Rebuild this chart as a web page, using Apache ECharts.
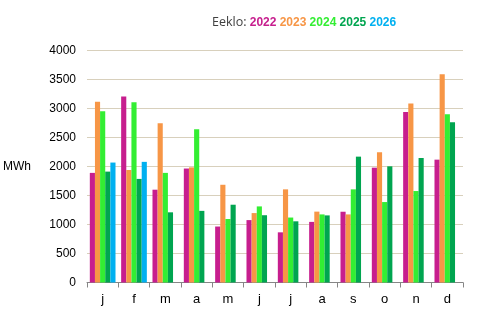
<!DOCTYPE html>
<html><head><meta charset="utf-8">
<script src="https://cdn.jsdelivr.net/npm/echarts@6/dist/echarts.min.js"></script>
<style>html,body{margin:0;padding:0;background:#fff}#c{width:480px;height:323px}</style>
</head><body><div id="c"></div>
<script>
const months = ['j','f','m','a','m','j','j','a','s','o','n','d'];
const years = ['2022','2023','2024','2025','2026'];
const colors = ['#C71E8E','#F79646','#33EE33','#00A550','#00B0F0'];
const v2022 = [1890,3205,1600,1965,965,1076,865,1045,1220,1980,2940,2118];
const v2023 = [3115,1940,2745,1985,1685,1197,1606,1222,1174,2244,3085,3591];
const v2024 = [2952,3108,1890,2642,1095,1312,1120,1174,1606,1387,1577,2900];
const v2025 = [1912,1786,1210,1235,1341,1160,1055,1157,2170,2003,2147,2762];
const v2026 = [2068,2080,null,null,null,null,null,null,null,null,null,null];
const yTicks = [0,500,1000,1500,2000,2500,3000,3500,4000];
const values = [v2022,v2023,v2024,v2025,v2026];

const chart = echarts.init(document.getElementById('c'));
const rich = {k:{color:'#404040',fontSize:12.5,fontWeight:'normal',fontFamily:'Open Sans'}};
years.forEach((y,i)=>{rich['y'+i]={color:colors[i],fontSize:12,fontWeight:'bold',fontFamily:'Liberation Sans'};});
chart.setOption({
  animation:false,
  title:{
    text:'{k|Eeklo: }' + years.map((y,i)=>'{y'+i+'|'+y+'}').join('{k| }'),
    left:207, top:11,
    textStyle:{fontWeight:'normal',rich:rich}
  },
  grid:{left:81,right:17,top:50.5,bottom:40.5},
  xAxis:{
    type:'category', data:months,
    axisLine:{lineStyle:{color:'#868686'}},
    axisTick:{show:true,length:5,lineStyle:{color:'#868686'}},
    axisLabel:{color:'#000',fontSize:13,fontFamily:'Liberation Sans',margin:10}
  },
  yAxis:{
    type:'value', min:yTicks[0], max:yTicks[yTicks.length-1], interval:500,
    name:'MWh', nameLocation:'middle', nameRotate:0, nameGap:56,
    nameTextStyle:{color:'#000',fontSize:12,fontFamily:'Liberation Sans'},
    axisLine:{show:false}, axisTick:{show:false},
    axisLabel:{color:'#000',fontSize:12,fontFamily:'Liberation Sans',margin:11,formatter:v=>String(v)},
    splitLine:{lineStyle:{color:'#D8D0BC',width:1}}
  },
  series: years.map((y,i)=>({
    name:y, type:'bar', data:values[i],
    itemStyle:{color:colors[i]},
    barGap:'0%', barCategoryGap:'18%'
  }))
});
</script></body></html>
